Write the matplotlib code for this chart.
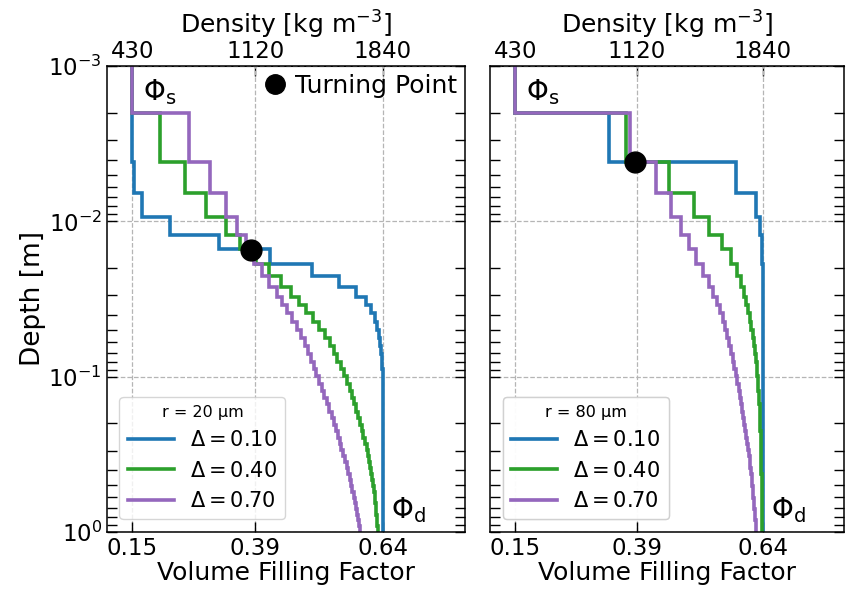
import matplotlib
matplotlib.use('Agg')
import matplotlib.pyplot as plt
from matplotlib.lines import Line2D

plt.rcParams['mathtext.fontset'] = 'dejavusans'

# layer boundaries in depth [m]
depth_edges = [0.0005, 0.002, 0.00413, 0.00655, 0.00943, 0.01225, 0.01515, 0.01884,
               0.0225, 0.0264, 0.0306, 0.0346, 0.0391, 0.0443, 0.0501, 0.0564,
               0.0635, 0.0713, 0.0800, 0.0894, 0.0997, 0.111, 0.123, 0.137,
               0.151, 0.168, 0.185, 0.204, 0.225, 0.247, 0.271, 0.297,
               0.326, 0.357, 0.390, 0.426, 0.465, 0.508, 0.553, 0.603,
               0.656, 0.714, 0.776, 0.843, 0.916, 1.2]

# r = 20 um
blue_r20 = [0.15, 0.15, 0.153, 0.168, 0.224, 0.32, 0.419, 0.501, 0.555, 0.588,
            0.606, 0.617, 0.624, 0.629, 0.632, 0.635, 0.637, 0.638, 0.639, 0.64,
            0.64, 0.64, 0.64, 0.64, 0.64, 0.64, 0.64, 0.64, 0.64, 0.64,
            0.64, 0.64, 0.64, 0.64, 0.64, 0.64, 0.64, 0.64, 0.64, 0.64,
            0.64, 0.64, 0.64, 0.64, 0.64]
green_r20 = [0.15, 0.203, 0.253, 0.294, 0.333, 0.361, 0.392, 0.418, 0.44, 0.46,
             0.476, 0.49, 0.503, 0.515, 0.526, 0.536, 0.544, 0.551, 0.558, 0.564,
             0.57, 0.575, 0.58, 0.584, 0.588, 0.592, 0.596, 0.599, 0.602, 0.605,
             0.608, 0.61, 0.613, 0.615, 0.617, 0.619, 0.621, 0.623, 0.624, 0.625,
             0.626, 0.627, 0.628, 0.629, 0.63]
purple_r20 = [0.15, 0.26, 0.302, 0.333, 0.354, 0.372, 0.387, 0.403, 0.418, 0.432,
              0.443, 0.453, 0.463, 0.472, 0.48, 0.487, 0.493, 0.499, 0.505, 0.51,
              0.515, 0.52, 0.525, 0.53, 0.535, 0.54, 0.544, 0.548, 0.552, 0.556,
              0.559, 0.562, 0.566, 0.569, 0.572, 0.575, 0.578, 0.58, 0.583, 0.585,
              0.588, 0.59, 0.592, 0.594, 0.596]

# r = 80 um
blue_r80 = [0.15, 0.336, 0.586, 0.627, 0.635, 0.638, 0.639, 0.64, 0.64, 0.64,
            0.64, 0.64, 0.64, 0.64, 0.64, 0.64, 0.64, 0.64, 0.64, 0.64,
            0.64, 0.64, 0.64, 0.64, 0.64, 0.64, 0.64, 0.64, 0.64, 0.64,
            0.64, 0.64, 0.64, 0.64, 0.64, 0.64, 0.64, 0.64, 0.64, 0.64,
            0.64, 0.64, 0.64, 0.64, 0.64]
green_r80 = [0.15, 0.368, 0.455, 0.504, 0.534, 0.558, 0.577, 0.589, 0.597, 0.603,
             0.607, 0.611, 0.614, 0.617, 0.62, 0.622, 0.624, 0.626, 0.628, 0.629,
             0.63, 0.631, 0.632, 0.633, 0.634, 0.634, 0.635, 0.635, 0.636, 0.636,
             0.636, 0.637, 0.637, 0.637, 0.637, 0.638, 0.638, 0.638, 0.638, 0.638,
             0.638, 0.638, 0.638, 0.638, 0.638]
purple_r80 = [0.15, 0.377, 0.429, 0.459, 0.478, 0.494, 0.508, 0.521, 0.533, 0.542,
              0.549, 0.555, 0.56, 0.565, 0.569, 0.573, 0.577, 0.58, 0.583, 0.586,
              0.589, 0.592, 0.594, 0.597, 0.599, 0.601, 0.603, 0.605, 0.607, 0.609,
              0.611, 0.612, 0.614, 0.615, 0.617, 0.618, 0.619, 0.62, 0.621, 0.622,
              0.623, 0.624, 0.625, 0.626, 0.627]

turn_r20 = (0.382, 0.0153)
turn_r80 = (0.387, 0.00416)

phi_ticks = [0.15, 0.39, 0.64]
phi_labels = ['0.15', '0.39', '0.64']
density_labels = ['430', '1120', '1840']
deltas = ['0.10', '0.40', '0.70']
colors = ['#1f77b4', '#2ca02c', '#9467bd']

fig = plt.figure(figsize=(8.48, 5.95), dpi=100)
ax1 = fig.add_axes([0.126, 0.106, 0.422, 0.783])
ax2 = fig.add_axes([0.578, 0.106, 0.417, 0.783])


def panel(ax, series, turn, radius):
    for vals, c in zip(series, colors):
        ax.stairs(vals, depth_edges, orientation='horizontal', baseline=None,
                  color=c, lw=2.6, zorder=2)
    ax.plot(turn[0], turn[1], 'o', color='k', ms=15, zorder=5)
    ax.set_yscale('log')
    ax.set_ylim(1, 1e-3)
    ax.set_xlim(0.1, 0.8)
    ax.set_xticks(phi_ticks, phi_labels)
    ax.grid(True, which='major', ls='--', color='#b5b5b5', lw=0.9, zorder=1)
    ax.tick_params(which='both', direction='in', right=True, length=7.5,
                   width=1, labelsize=16.5)
    for s in ax.spines.values():
        s.set_linewidth(1.1)
    ax.set_xlabel('Volume Filling Factor', fontsize=18, labelpad=1)

    top = ax.secondary_xaxis('top')
    top.set_xticks(phi_ticks, density_labels)
    top.tick_params(direction='in', length=7.5, width=1, labelsize=16.5, pad=2)
    top.set_xlabel('Density [kg m$^{-3}$]', fontsize=18, labelpad=5)

    handles = [Line2D([], [], color=c, lw=2.6) for c in colors]
    labels = [r'$\Delta = %s$' % d for d in deltas]
    leg = ax.legend(handles, labels, title=radius, loc='lower left',
                    fontsize=15, title_fontsize=11.5, handlelength=2.2,
                    borderaxespad=0.6)
    ax.add_artist(leg)

    ax.text(0.10, 0.975, r'$\Phi_\mathrm{s}$', transform=ax.transAxes,
            fontsize=20, ha='left', va='top')
    ax.text(0.795, 0.015, r'$\Phi_\mathrm{d}$', transform=ax.transAxes,
            fontsize=20, ha='left', va='bottom')


panel(ax1, [blue_r20, green_r20, purple_r20], turn_r20, 'r = 20 µm')
panel(ax2, [blue_r80, green_r80, purple_r80], turn_r80, 'r = 80 µm')

ax1.set_ylabel('Depth [m]', fontsize=19, labelpad=2)
ax2.tick_params(labelleft=False)

tp = Line2D([], [], marker='o', color='k', ls='none', ms=14)
ax1.legend([tp], ['Turning Point'], loc='upper right', frameon=False,
           fontsize=18, handletextpad=0.3, handlelength=1.0,
           borderaxespad=0.0, borderpad=0.3)

fig.savefig('out.png', dpi=100)
